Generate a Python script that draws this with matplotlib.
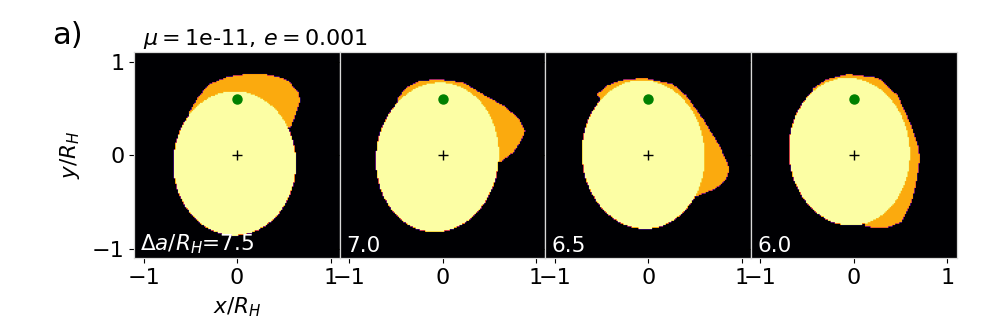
import numpy as np
import matplotlib
matplotlib.use("Agg")
import matplotlib.pyplot as plt
from matplotlib.path import Path

# separation labels for the four panels
delta_a = ["7.5", "7.0", "6.5", "6.0"]

# inner (yellow) region, approximated as ellipses: centre, semi-axes, tilt (deg)
ell_cx = [-0.025, -0.06, -0.05, -0.05]
ell_cy = [-0.09, -0.025, 0.005, 0.035]
ell_a = [0.66, 0.66, 0.66, 0.65]
ell_b = [0.775, 0.805, 0.80, 0.795]
ell_tilt = [0.0, -6.0, 4.0, 4.0]

# outer (orange) region boundaries
orange_x = [
    [-0.52, -0.42, -0.30, -0.10, 0.10, 0.30, 0.45, 0.56, 0.66, 0.68, 0.64, 0.58, 0.30, -0.30],
    [-0.49, -0.40, -0.24, -0.03, 0.22, 0.40, 0.65, 0.81, 0.88, 0.86, 0.76, 0.61, 0.30, -0.30],
    [-0.55, -0.45, -0.30, -0.05, 0.27, 0.41, 0.59, 0.77, 0.88, 0.84, 0.73, 0.63, 0.46, 0.20, -0.20],
    [-0.45, -0.30, -0.06, 0.26, 0.47, 0.62, 0.69, 0.71, 0.67, 0.62, 0.51, 0.33, 0.12, 0.0, -0.30],
]
orange_y = [
    [0.45, 0.62, 0.76, 0.84, 0.87, 0.87, 0.84, 0.79, 0.67, 0.58, 0.46, 0.30, 0.20, 0.20],
    [0.60, 0.72, 0.80, 0.81, 0.78, 0.67, 0.53, 0.40, 0.26, 0.19, 0.03, -0.08, 0.0, 0.2],
    [0.65, 0.74, 0.80, 0.83, 0.76, 0.64, 0.39, 0.10, -0.15, -0.26, -0.36, -0.40, -0.47, -0.3, 0.2],
    [0.71, 0.81, 0.87, 0.83, 0.64, 0.31, 0.10, -0.04, -0.29, -0.51, -0.72, -0.79, -0.77, -0.3, 0.3],
]

planet_x, planet_y = 0.0, 0.6
star_x, star_y = 0.0, 0.0

lim = 1.1
n_cells = 150
orange_level = 0.81

centres = np.linspace(-lim, lim, n_cells)
gx, gy = np.meshgrid(centres, centres)
pts = np.column_stack([gx.ravel(), gy.ravel()])

fig = plt.figure(figsize=(9.97, 3.21), dpi=100)
left, bottom, width, height = 0.1347, 0.1953, 0.2062, 0.6417

for i in range(4):
    ax = fig.add_axes([left + i * width, bottom, width, height])

    grid = np.zeros_like(gx)
    poly = Path(np.column_stack([orange_x[i], orange_y[i]]))
    grid[poly.contains_points(pts).reshape(gx.shape)] = orange_level

    t = np.radians(ell_tilt[i])
    dx, dy = gx - ell_cx[i], gy - ell_cy[i]
    u = dx * np.cos(t) + dy * np.sin(t)
    v = -dx * np.sin(t) + dy * np.cos(t)
    grid[(u / ell_a[i]) ** 2 + (v / ell_b[i]) ** 2 <= 1] = 1.0

    ax.imshow(grid, origin="lower", extent=[-lim, lim, -lim, lim],
              cmap="inferno", vmin=0, vmax=1, aspect="auto",
              interpolation="hanning", interpolation_stage="data")
    ax.plot(planet_x, planet_y, "o", color="green", ms=6.5)
    ax.plot(star_x, star_y, "+", color="black", ms=7, mew=1)

    ax.set_xlim(-lim, lim)
    ax.set_ylim(-lim, lim)
    ax.set_xticks([-1, 0, 1])
    ax.set_yticks([-1, 0, 1])
    ax.tick_params(labelsize=16)
    for s in ax.spines.values():
        s.set_color("0.85")
        s.set_linewidth(0.9)

    label = r"$\Delta a/R_H$=" + delta_a[i] if i == 0 else delta_a[i]
    ax.text(0.03, 0.01, label, transform=ax.transAxes, color="white",
            fontsize=15.5, ha="left", va="bottom")

    if i == 0:
        ax.set_xlabel(r"$x/R_H$", fontsize=15.5, labelpad=5)
        ax.set_ylabel(r"$y/R_H$", fontsize=15.5, labelpad=7)
    else:
        ax.set_yticklabels([])

fig.text(0.143, 0.86, r"$\mu=$1e-11, $e=$0.001", fontsize=16, ha="left", va="baseline")
fig.text(0.052, 0.89, "a)", fontsize=22, ha="left", va="center")

fig.savefig("out.png", dpi=100)
